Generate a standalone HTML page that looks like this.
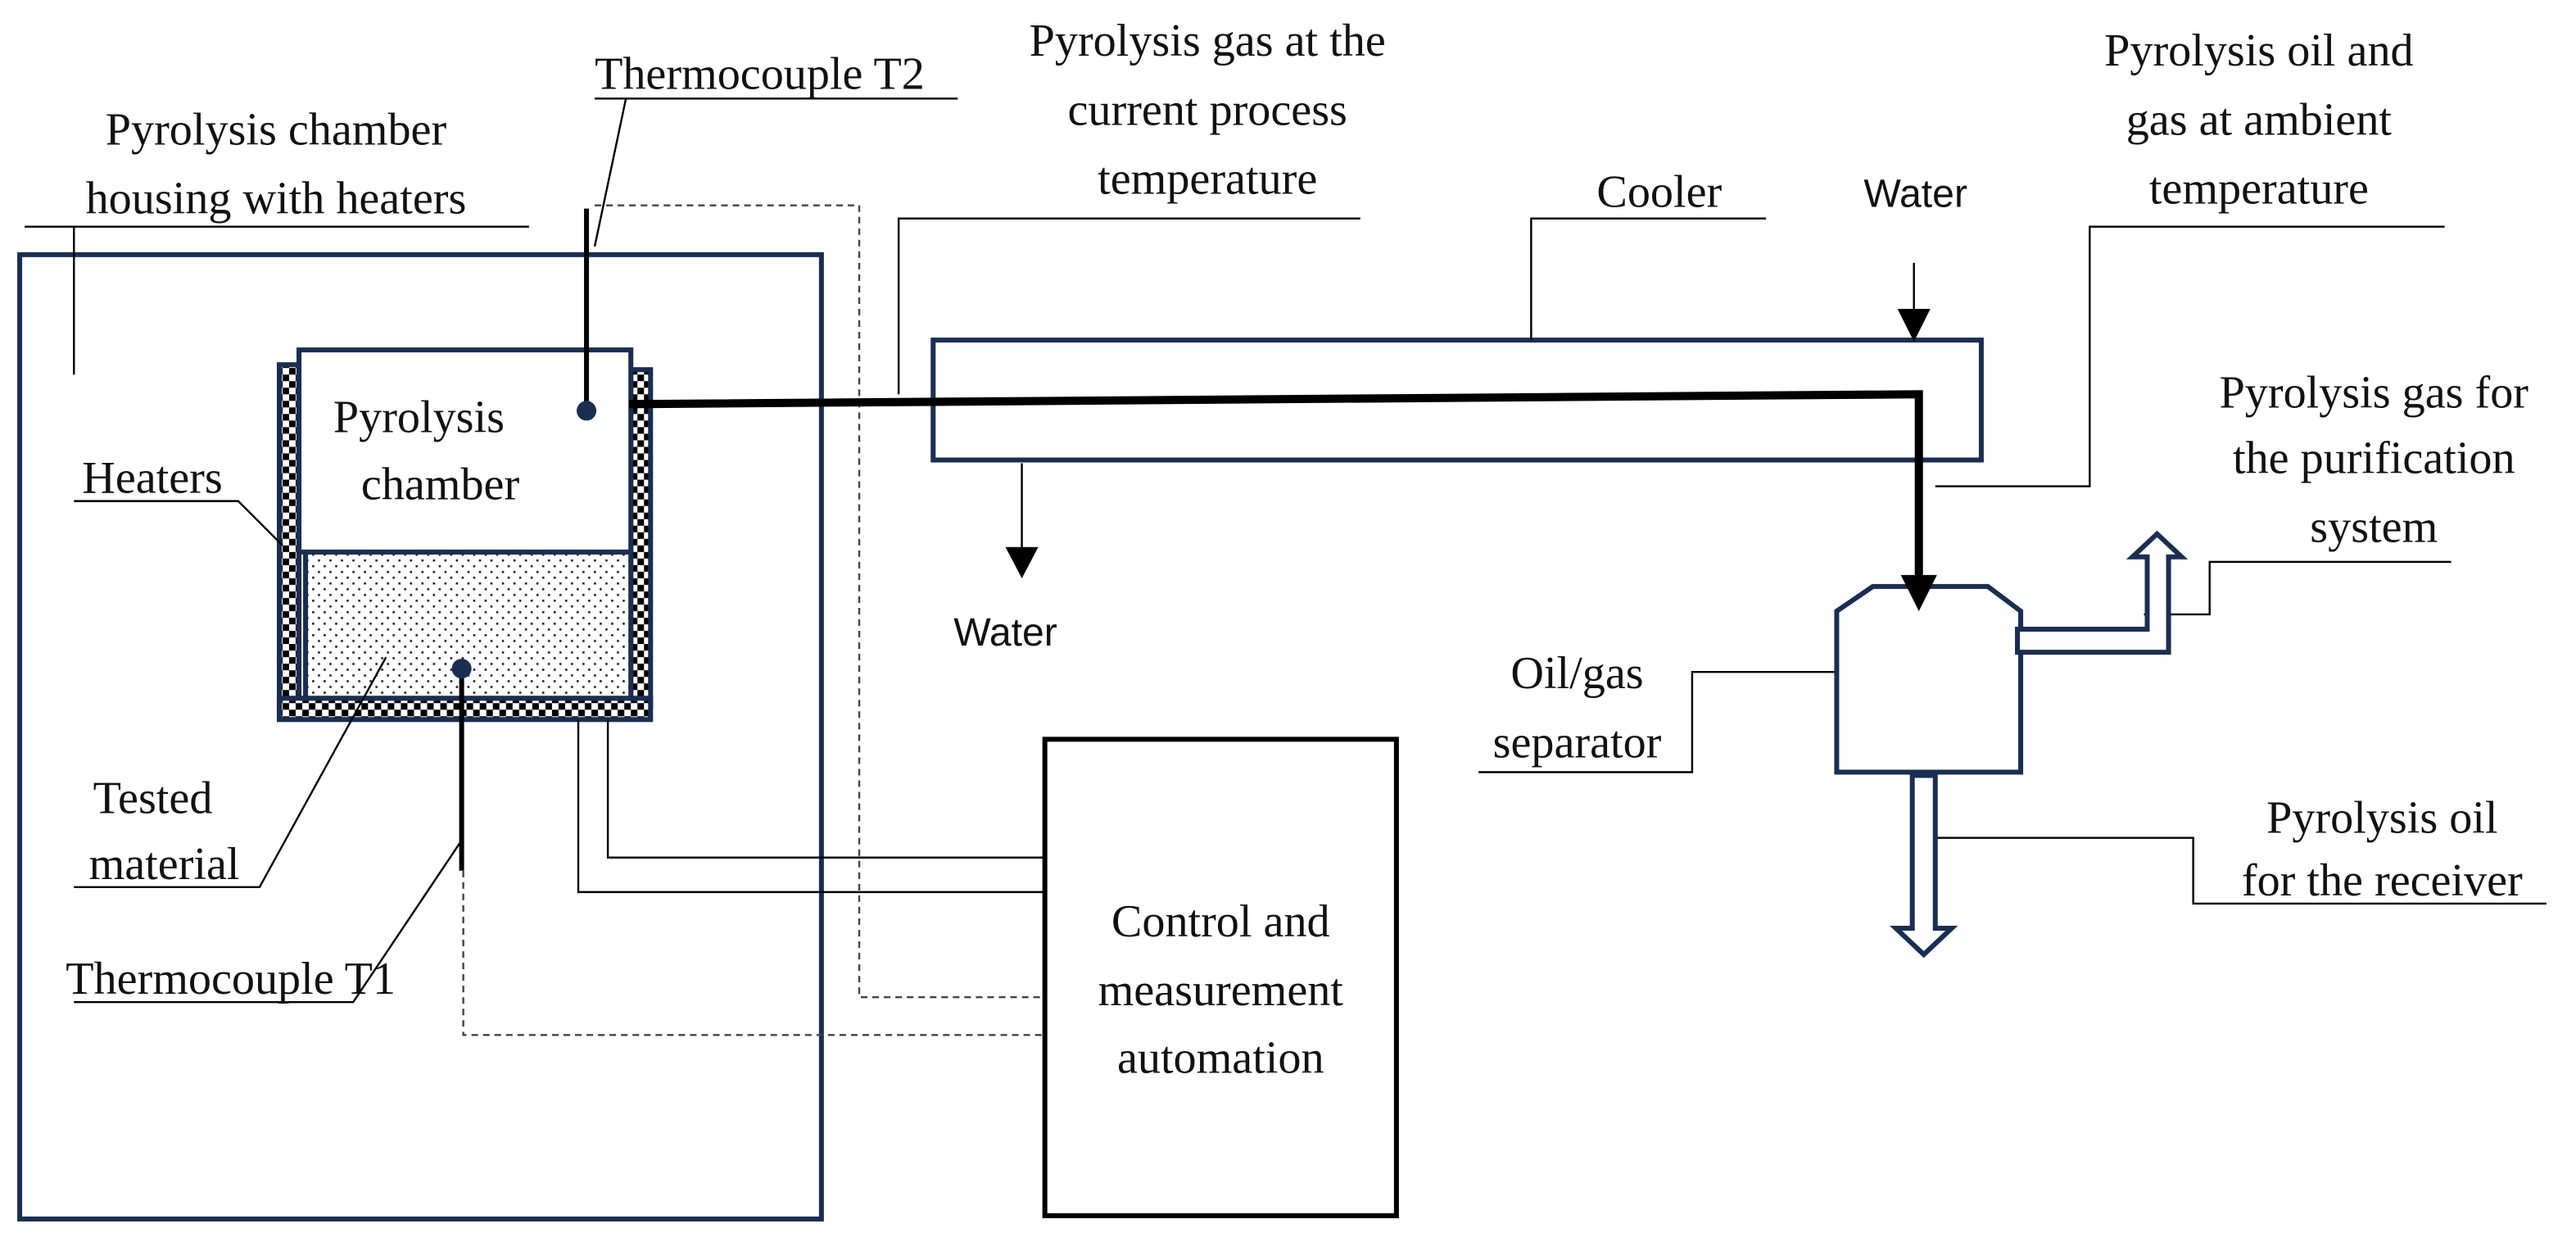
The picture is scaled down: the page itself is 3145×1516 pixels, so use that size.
<!DOCTYPE html>
<html><head><meta charset="utf-8"><style>
html,body{margin:0;padding:0;background:#fff;}
svg{display:block;}
text{font-family:"Liberation Serif",serif;font-size:28px;fill:#111;}
text.s{font-family:"Liberation Sans",sans-serif;font-size:24px;}
</style></head><body>
<svg width="3145" height="1516" viewBox="0 0 1568 756" preserveAspectRatio="none" xmlns="http://www.w3.org/2000/svg">
<defs>
<pattern id="chk" width="8" height="8" patternUnits="userSpaceOnUse">
<rect width="8" height="8" fill="#fff"/><rect width="4" height="4" fill="#000"/><rect x="4" y="4" width="4" height="4" fill="#000"/>
</pattern>
<pattern id="dots" width="7" height="7" patternUnits="userSpaceOnUse">
<rect width="7" height="7" fill="#fff"/><rect x="1" y="1" width="1.3" height="1.3" fill="#222"/><rect x="4.5" y="4.5" width="1.3" height="1.3" fill="#222"/>
</pattern>
</defs>
<g fill="none" stroke="#1a2e52" stroke-width="3">
<rect x="12" y="155" width="488" height="587"/>
<rect x="636" y="450" width="214" height="290" stroke="#000"/>
<rect x="568" y="207" width="638" height="73"/>
</g>
<rect x="170" y="222" width="12" height="208" fill="url(#chk)" stroke="#1a2e52" stroke-width="3"/>
<rect x="384" y="225" width="12" height="205" fill="url(#chk)" stroke="#1a2e52" stroke-width="3"/>
<rect x="170" y="425" width="226" height="13" fill="url(#chk)" stroke="#1a2e52" stroke-width="3"/>
<rect x="186" y="336" width="198" height="89" fill="url(#dots)" stroke="#1a2e52" stroke-width="3"/>
<rect x="182" y="213" width="202" height="123" fill="#fff" stroke="#1a2e52" stroke-width="3"/>
<text x="255" y="263" text-anchor="middle">Pyrolysis</text>
<text x="268" y="304" text-anchor="middle">chamber</text>
<line x1="357" y1="127" x2="357" y2="250" stroke="#000" stroke-width="3"/>
<circle cx="357" cy="250" r="6" fill="#1a2e52"/>
<line x1="281" y1="407" x2="281" y2="530" stroke="#000" stroke-width="3"/>
<circle cx="281" cy="407" r="6" fill="#1a2e52"/>
<g fill="none" stroke="#444" stroke-width="1.2" stroke-dasharray="4,3">
<polyline points="362,125 523,125 523,607 636,607"/>
<polyline points="282,530 282,630 636,630"/>
</g>
<g fill="none" stroke="#000" stroke-width="1.2">
<polyline points="352,438 352,543 636,543"/>
<polyline points="370,438 370,522 636,522"/>
<polyline points="15,138 322,138"/><line x1="45" y1="138" x2="45" y2="228"/>
<polyline points="362,60 583,60"/><line x1="381" y1="60" x2="362" y2="150"/>
<polyline points="828,133 547,133 547,240"/>
<polyline points="1075,133 932,133 932,207"/>
<polyline points="1488,138 1272,138 1272,296 1178,296"/>
<polyline points="1492,342 1345,342 1345,374 1305,374"/>
<polyline points="45,305 145,305 172,332"/>
<polyline points="45,540 158,540 235,400"/>
<polyline points="45,610 215,610 282,510"/>
<polyline points="900,470 1030,470 1030,409 1160,409"/>
<polyline points="1178,510 1335,510 1335,550 1550,550"/>
<line x1="622" y1="282" x2="622" y2="335"/>
<line x1="1165" y1="160" x2="1165" y2="190"/>
</g>
<polygon points="612,333 632,333 622,352" fill="#000"/>
<polygon points="1155,188 1175,188 1165,208" fill="#000"/>
<polyline points="383,246 1168,240 1168,352" fill="none" stroke="#000" stroke-width="5"/>
<polygon points="1118,372 1140,357 1210,357 1230,372 1230,470 1118,470" fill="#fff" stroke="#1a2e52" stroke-width="3"/>
<polygon points="1228,383 1307,383 1307,339 1298,339 1313,325 1328,339 1320,339 1320,397 1228,397" fill="#fff" stroke="#1a2e52" stroke-width="3"/>
<polygon points="1164,472 1164,565 1154,565 1171,581 1188,565 1178,565 1178,472" fill="#fff" stroke="#1a2e52" stroke-width="3"/>
<line x1="1168" y1="352" x2="1168" y2="358" stroke="#000" stroke-width="5"/>
<polygon points="1157,350 1179,350 1168,372" fill="#000"/>
<text x="168" y="88" text-anchor="middle">Pyrolysis chamber</text>
<text x="168" y="130" text-anchor="middle">housing with heaters</text>
<text x="362" y="54">Thermocouple T2</text>
<text x="735" y="34" text-anchor="middle">Pyrolysis gas at the</text>
<text x="735" y="76" text-anchor="middle">current process</text>
<text x="735" y="118" text-anchor="middle">temperature</text>
<text x="1010" y="126" text-anchor="middle">Cooler</text>
<text class="s" x="1166" y="126" text-anchor="middle">Water</text>
<text x="1375" y="40" text-anchor="middle">Pyrolysis oil and</text>
<text x="1375" y="82" text-anchor="middle">gas at ambient</text>
<text x="1375" y="124" text-anchor="middle">temperature</text>
<text x="1445" y="248" text-anchor="middle">Pyrolysis gas for</text>
<text x="1445" y="288" text-anchor="middle">the purification</text>
<text x="1445" y="330" text-anchor="middle">system</text>
<text x="50" y="300">Heaters</text>
<text class="s" x="612" y="393" text-anchor="middle">Water</text>
<text x="93" y="495" text-anchor="middle">Tested</text>
<text x="100" y="535" text-anchor="middle">material</text>
<text x="40" y="605">Thermocouple T1</text>
<text x="960" y="419" text-anchor="middle">Oil/gas</text>
<text x="960" y="461" text-anchor="middle">separator</text>
<text x="1450" y="507" text-anchor="middle">Pyrolysis oil</text>
<text x="1450" y="545" text-anchor="middle">for the receiver</text>
<text x="743" y="570" text-anchor="middle">Control and</text>
<text x="743" y="612" text-anchor="middle">measurement</text>
<text x="743" y="653" text-anchor="middle">automation</text>
</svg>
</body></html>
